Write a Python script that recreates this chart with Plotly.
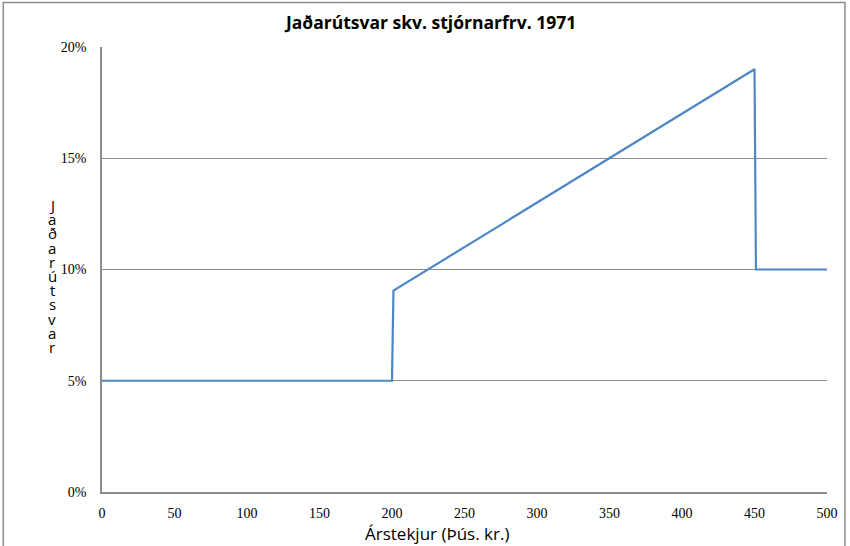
import plotly.graph_objects as go

income = [0, 200, 201, 450, 451, 500]
rate = [5, 5, 9.05, 19, 10, 10]
x_ticks = [0, 50, 100, 150, 200, 250, 300, 350, 400, 450, 500]
y_ticks = [0, 5, 10, 15, 20]
y_tick_labels = ["0%", "5%", "10%", "15%", "20%"]
title = "Jaðarútsvar skv. stjórnarfrv. 1971"
x_title = "Árstekjur (Þús. kr.)"
y_title = "Jaðarútsvar"

W, H = 850, 546
L, R, T, B = 102, 21, 47, 54
pw, ph = W - L - R, H - T - B

def px(x):
    return (x - L) / pw

def py(y):
    return (H - B - y) / ph

fig = go.Figure()
fig.add_trace(go.Scatter(x=income, y=rate, mode="lines",
                         line=dict(color="#4F87C6", width=2.2), showlegend=False))

fig.update_layout(
    width=W, height=H,
    margin=dict(l=L, r=R, t=T, b=B),
    plot_bgcolor="white", paper_bgcolor="white",
    xaxis=dict(range=[0, 500], tickvals=x_ticks, showgrid=False, zeroline=False,
               showline=True, linecolor="#8C8C8C", linewidth=1.5,
               tickfont=dict(family="Liberation Serif", size=14, color="black"),
               ticklabelstandoff=7, fixedrange=True),
    yaxis=dict(range=[0, 20], tickvals=y_ticks, ticktext=y_tick_labels,
               showgrid=True, gridcolor="#8C8C8C", gridwidth=1.2, zeroline=False,
               showline=True, linecolor="#8C8C8C", linewidth=1.5,
               tickfont=dict(family="Liberation Serif", size=14, color="black"),
               ticklabelstandoff=11, fixedrange=True),
)

fig.add_annotation(text="<b>" + title + "</b>", xref="paper", yref="paper",
                   x=px(431), y=py(22), showarrow=False,
                   font=dict(family="Open Sans", size=17.5, color="black"),
                   xanchor="center", yanchor="middle")
fig.add_annotation(text=x_title, xref="paper", yref="paper",
                   x=px(438), y=py(533), showarrow=False,
                   font=dict(family="Open Sans", size=17, color="black"),
                   xanchor="center", yanchor="middle")
# stacked vertical letters of the y-axis title
for i, ch in enumerate(y_title):
    fig.add_annotation(text=ch, xref="paper", yref="paper",
                       x=px(52), y=py(205 + i * 14.2), showarrow=False,
                       font=dict(family="Open Sans", size=15, color="black"),
                       xanchor="center", yanchor="middle")

fig.add_shape(type="rect", xref="paper", yref="paper",
              x0=px(3), x1=px(847), y0=py(560), y1=py(2.5),
              line=dict(color="#8C8C8C", width=1.5), fillcolor="rgba(0,0,0,0)", layer="below")

fig.write_html("out.html", config={"displayModeBar": False},
               post_script="document.body.style.margin='0';document.body.style.padding='0';")
